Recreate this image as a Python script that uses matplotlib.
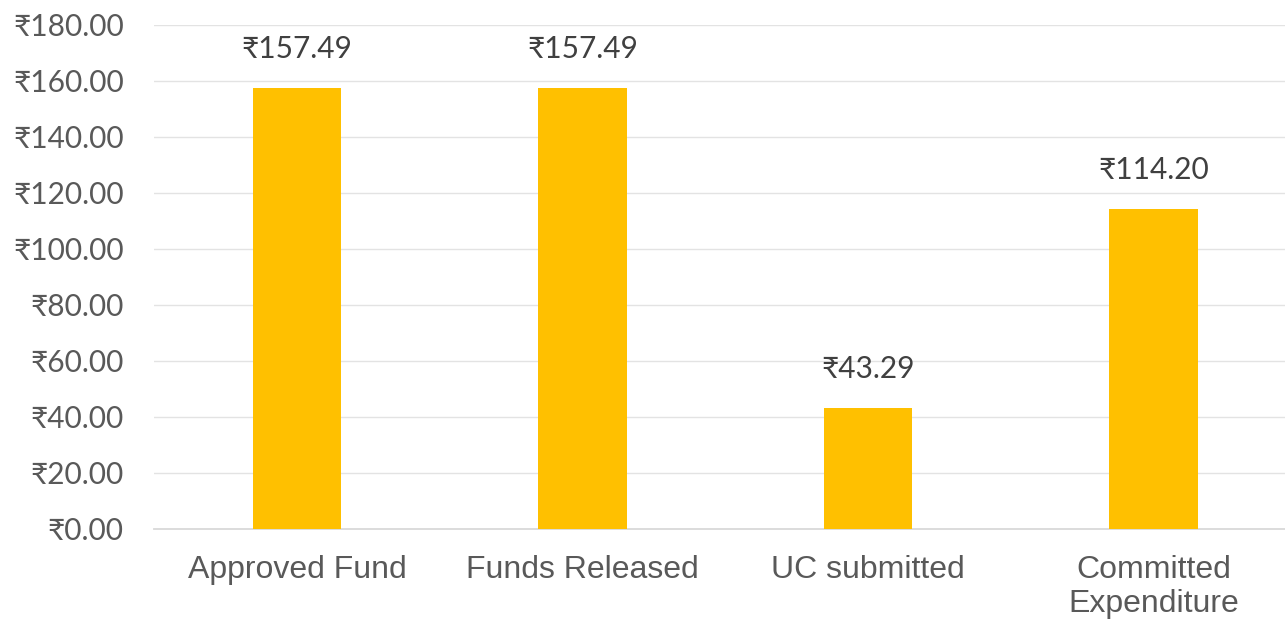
import matplotlib.pyplot as plt
from matplotlib.ticker import FuncFormatter

# fund status (in crore rupees)
categories = ["Approved Fund", "Funds Released", "UC submitted", "Committed\nExpenditure"]
amounts = [157.49, 157.49, 43.29, 114.20]
y_ticks = [0, 20, 40, 60, 80, 100, 120, 140, 160, 180]

num_font = ["Lato", "DejaVu Sans"]
cat_font = ["Liberation Sans Narrow", "Liberation Sans", "DejaVu Sans"]

fig = plt.figure(figsize=(12.85, 6.25), dpi=100)
ax = fig.add_axes([0.12, 0.1536, 0.88, 0.8064])

x = range(len(categories))
bars = ax.bar(x, amounts, width=0.31, color="#FFC000", zorder=3)

for b, v in zip(bars, amounts):
    ax.text(b.get_x() + b.get_width() / 2, v + 9, f"\u20b9{v:.2f}",
            ha="center", va="bottom", fontsize=21.5, color="#404040",
            family=num_font)

ax.set_ylim(0, 180)
ax.set_xlim(-0.5, 3.46)
ax.set_yticks(y_ticks)
ax.yaxis.set_major_formatter(FuncFormatter(lambda v, p: f"\u20b9{v:.2f}"))
ax.grid(axis="y", color="#E3E3E3", linewidth=1.0, zorder=0)

ax.set_xticks(list(x))
ax.set_xticklabels(categories, family=cat_font, fontsize=23, color="#595959",
                   linespacing=1.15)
for lab in ax.get_yticklabels():
    lab.set_family(num_font)
    lab.set_fontsize(21.5)
    lab.set_color("#595959")

ax.tick_params(axis="both", length=0)
ax.tick_params(axis="x", pad=19)
ax.tick_params(axis="y", pad=22)
for s in ["top", "right", "left"]:
    ax.spines[s].set_visible(False)
ax.spines["bottom"].set_color("#D9D9D9")
ax.spines["bottom"].set_linewidth(1.3)

fig.savefig("out.png", dpi=100)
